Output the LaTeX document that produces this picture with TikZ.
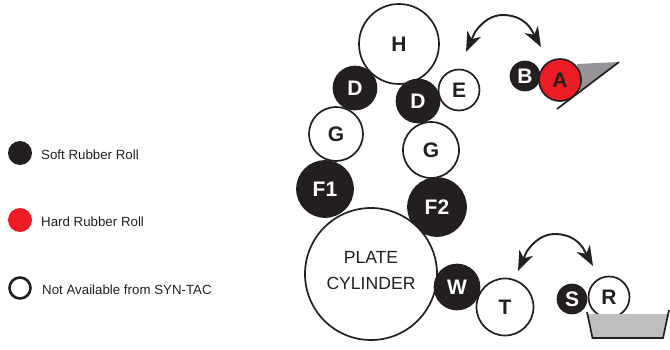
\documentclass[tikz,border=0pt]{standalone}
\usepackage{fontspec}
\setmainfont{Liberation Sans}
\usetikzlibrary{arrows.meta}
\definecolor{ink}{HTML}{231F20}
\definecolor{hardred}{HTML}{ED1C24}
\definecolor{wedge}{HTML}{939598}
\definecolor{tray}{HTML}{BCBEC0}
\tikzset{
  roll/.style={circle,inner sep=0pt,minimum size=#1,line width=1.7pt,font=\bfseries\fontsize{21}{21}\selectfont},
  soft/.style={roll=#1,draw=ink,fill=ink,text=white},
  open/.style={roll=#1,draw=ink,fill=white,text=ink},
  hard/.style={roll=#1,draw=ink,fill=hardred,text=ink},
  swap/.style={ink,line width=1.9pt,line join=round,{Stealth[length=20pt,width=15pt,inset=6pt]}-{Stealth[length=20pt,width=15pt,inset=6pt]}},
  legend/.style={anchor=west,inner sep=0pt,text=ink,font=\fontsize{13.3}{15}\selectfont},
  key/.style={circle,inner sep=0pt,minimum size=#1}
}
\begin{document}
\begin{tikzpicture}[x=1pt,y=-1pt]
\useasboundingbox (0,0) rectangle (670,349);
% wedge and blade behind roll A
\fill[wedge] (577,64) -- (618,62) -- (580,92) -- cycle;
\draw[ink,line width=1.7pt] (557,109) -- (619,62);
% tray behind R
\node[open=41pt] (R) at (609,297) {R};
\fill[tray] (588,314) -- (669,314) -- (662,338) -- (593,338) -- cycle;
\draw[ink,line width=1.7pt] (587,312) -- (592.5,338) -- (663,338) -- (669,310);
% rolls
\node[open=80pt] (H) at (399,44) {H};
\node[soft=43pt] (D1) at (355,88) {D};
\node[open=41pt] (E) at (459,90) {E};
\node[soft=43pt] (D2) at (418,101) {D};
\node[open=54pt] (G1) at (336,134) {G};
\node[open=56pt] (G2) at (431,150) {G};
\node[soft=56pt] (F1) at (325,189) {F1};
\node[soft=58pt] (F2) at (437,207) {F2};
\node[open=132pt] (P) at (371,274) {};
\node[font=\fontsize{17.6}{26}\selectfont,align=center,text=ink,inner sep=0pt] (Ptext) at (371,271) {PLATE\\CYLINDER};
\node[soft=45pt] (W) at (457,287) {W};
\node[open=57pt] (T) at (505,307) {T};
\node[soft=29pt] (S) at (572,299) {S};
\node[soft=29pt] (B) at (525,76) {B};
\node[hard=42pt] (A) at (560,80) {A};
% swap arrows
\coordinate (e1) at (466,52);
\coordinate (e2) at (541,47);
\coordinate (t1) at (518,271);
\coordinate (t2) at (593,266);
\draw[swap] (e1) -- (475,32) .. controls (483,21) and (492,15) .. (503,15) .. controls (515,15) and (525,20) .. (531,29) -- (e2);
\draw[swap] (t1) -- (527,251) .. controls (535,240) and (544,234) .. (555,234) .. controls (567,234) and (577,239) .. (583,248) -- (t2);
% legend
\node[key=24pt,fill=ink] (k1) at (20,153) {};
\node[key=24pt,fill=hardred] (k2) at (20,220) {};
\node[key=21pt,draw=ink,line width=2.6pt,fill=white] (k3) at (20,288) {};
\node[legend] (l1) at (41,155) {Soft Rubber Roll};
\node[legend] (l2) at (41,222) {Hard Rubber Roll};
\node[legend] (l3) at (42,290) {Not Available from SYN-TAC};
\end{tikzpicture}
\end{document}
